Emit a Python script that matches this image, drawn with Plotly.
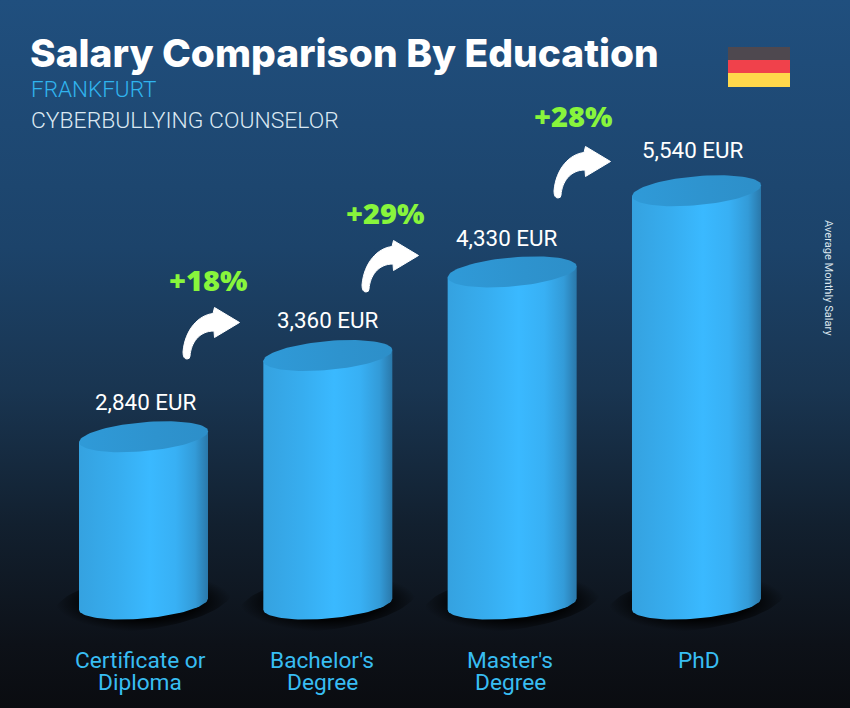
import numpy as np
import plotly.graph_objects as go

# values
categories = ["Certificate or<br>Diploma", "Bachelor's<br>Degree", "Master's<br>Degree", "PhD"]
salaries = [2840, 3360, 4330, 5540]
# the picture draws the bars in even steps, not to scale with the salary
bar_levels = [2.04, 3.03, 4.05, 5.04]
raises = ["+18%", "+29%", "+28%"]

title = "Salary Comparison By Education"
city = "FRANKFURT"
job = "CYBERBULLYING COUNSELOR"
side_note = "Average Monthly Salary"

W, H = 850, 708
STEP_X, STEP_Y = 184.33, 82.0
X0_PX, Y0_PX = 143.5, 604.0
x_range = [-X0_PX / STEP_X, (W - X0_PX) / STEP_X]
y_range = [(Y0_PX - H) / STEP_Y, Y0_PX / STEP_Y]

A = 64.5 / STEP_X
B = 14.5 / STEP_Y
TILT = 5.5 / STEP_Y

side_scale = [[0, "#35a2e0"], [0.3, "#37adef"], [0.55, "#3ab9ff"], [0.75, "#38b0f4"],
              [0.9, "#339bd8"], [1, "#2a78aa"]]
cap_scale = [[0, "#2f9ad8"], [0.6, "#2e93ce"], [1, "#2d8fc9"]]
bg_scale = [[0, "#0a0c10"], [0.09, "#0d1118"], [0.26, "#12202f"], [0.45, "#193551"],
            [0.65, "#1c436a"], [1, "#204f7e"]]


def ellipse(cx, cy, t):
    return cx + A * np.cos(t), cy + TILT * np.cos(t) + B * np.sin(t)


def px_x(px):
    return (px - X0_PX) / STEP_X


def px_y(px):
    return (Y0_PX - px) / STEP_Y


fig = go.Figure()

fig.add_trace(go.Scatter(
    x=[x_range[0], x_range[1], x_range[1], x_range[0]],
    y=[y_range[0], y_range[0], y_range[1], y_range[1]],
    mode="lines", line=dict(width=0), fill="toself", hoverinfo="skip",
    fillgradient=dict(type="vertical", colorscale=bg_scale),
))

for i, level in enumerate(bar_levels):
    t = np.linspace(0, 2 * np.pi, 90)
    # soft shadow round the foot
    sx, sy = ellipse(i, 0.03, t)
    fig.add_trace(go.Scatter(
        x=i + (sx - i) * 1.38, y=0.03 + (sy - 0.03) * 1.95,
        mode="lines", line=dict(width=0), fill="toself", hoverinfo="skip",
        fillgradient=dict(type="radial", colorscale=[[0, "rgba(0,0,0,0.9)"], [0.62, "rgba(0,0,0,0.85)"],
                                                     [1, "rgba(0,0,0,0)"]]),
    ))
    # side of the cylinder
    low = np.linspace(np.pi, 2 * np.pi, 50)
    bx, by = ellipse(i, 0, low)
    fig.add_trace(go.Scatter(
        x=list(bx) + [i + A, i - A],
        y=list(by) + [level + TILT, level - TILT],
        mode="lines", line=dict(width=0), fill="toself", hoverinfo="skip",
        fillgradient=dict(type="horizontal", colorscale=side_scale),
    ))
    # top of the cylinder
    cx, cy = ellipse(i, level, t)
    fig.add_trace(go.Scatter(
        x=cx, y=cy, mode="lines", line=dict(width=0), fill="toself", hoverinfo="skip",
        fillgradient=dict(type="horizontal", colorscale=cap_scale),
    ))

annotations = []


def add_text(text, x, y, size, color, family="Roboto", weight=400, **kw):
    annotations.append(dict(text=text, x=x / W, y=1 - y / H, xref="paper", yref="paper",
                            showarrow=False, font=dict(size=size, color=color, family=family, weight=weight),
                            **kw))


add_text(city, 29, 88.5, 22.5, "#30b4ee", weight=300, xanchor="left", yanchor="middle")
add_text(job, 29, 120, 22.9, "#dbe8f2", weight=300, xanchor="left", yanchor="middle")
add_text(side_note, 829, 278, 11.1, "#dbe6ee", textangle=90, xanchor="center", yanchor="middle")

label_px = [(146, 402), (328, 320), (507, 238), (693, 150)]
for value, (lx, ly) in zip(salaries, label_px):
    add_text(f"{value:,} EUR", lx, ly, 22.4, "#ffffff", xanchor="center", yanchor="middle")

raise_px = [(208, 279), (385, 213), (573, 115.5)]
for text, (lx, ly) in zip(raises, raise_px):
    add_text(text, lx, ly, 29, "#88f53c", family="Open Sans", weight=800, xanchor="center", yanchor="middle")

# the lines of the category labels sit closer than plotly's tick labels allow
label_centres = [140, 322, 510, 699]
for name, lx in zip(categories, label_centres):
    for n, line in enumerate(name.split("<br>")):
        add_text(line, lx, 660 + 22 * n, 22.7, "#38bdf2", xanchor="center", yanchor="middle")

shapes = []
arrow_path = ("M 28.5 10.5 L 3.5 25.5 L 2 19.5 C -12 18 -26 4 -28 -19 "
              "Q -28 -26 -24 -26 Q -21 -26 -21 -23 C -20 -10 -12 2 3 2 L 3.5 -4.5 Z")
arrow_px = [(211, 333), (390, 266), (582, 172)]
for ax, ay in arrow_px:
    shapes.append(dict(type="path", path=arrow_path, xref="x", yref="y", xsizemode="pixel", ysizemode="pixel",
                       xanchor=px_x(ax), yanchor=px_y(ay), fillcolor="#ffffff",
                       line=dict(color="#ffffff", width=1), layer="above"))

flag_colors = ["#4e484f", "#f0414b", "#ffd84b"]
flag_edges = [47, 60, 73, 87]
for k, color in enumerate(flag_colors):
    shapes.append(dict(type="rect", xref="paper", yref="paper", x0=728 / W, x1=790 / W,
                       y0=1 - flag_edges[k + 1] / H, y1=1 - flag_edges[k] / H,
                       fillcolor=color, line=dict(width=0), layer="above"))

fig.update_layout(
    width=W, height=H, margin=dict(l=0, r=0, t=0, b=0), showlegend=False,
    paper_bgcolor="#0a0c10", plot_bgcolor="#0a0c10",
    title=dict(text=title, x=30 / W, xanchor="left", y=1 - 53 / H, yanchor="middle",
               font=dict(family="Inter", size=38.9, color="#ffffff", weight=800)),
    xaxis=dict(range=x_range, visible=False, fixedrange=True),
    yaxis=dict(range=y_range, visible=False, fixedrange=True),
    annotations=annotations, shapes=shapes,
)

fig.write_html("out.html", config=dict(displayModeBar=False), post_script="document.body.style.margin='0'")
